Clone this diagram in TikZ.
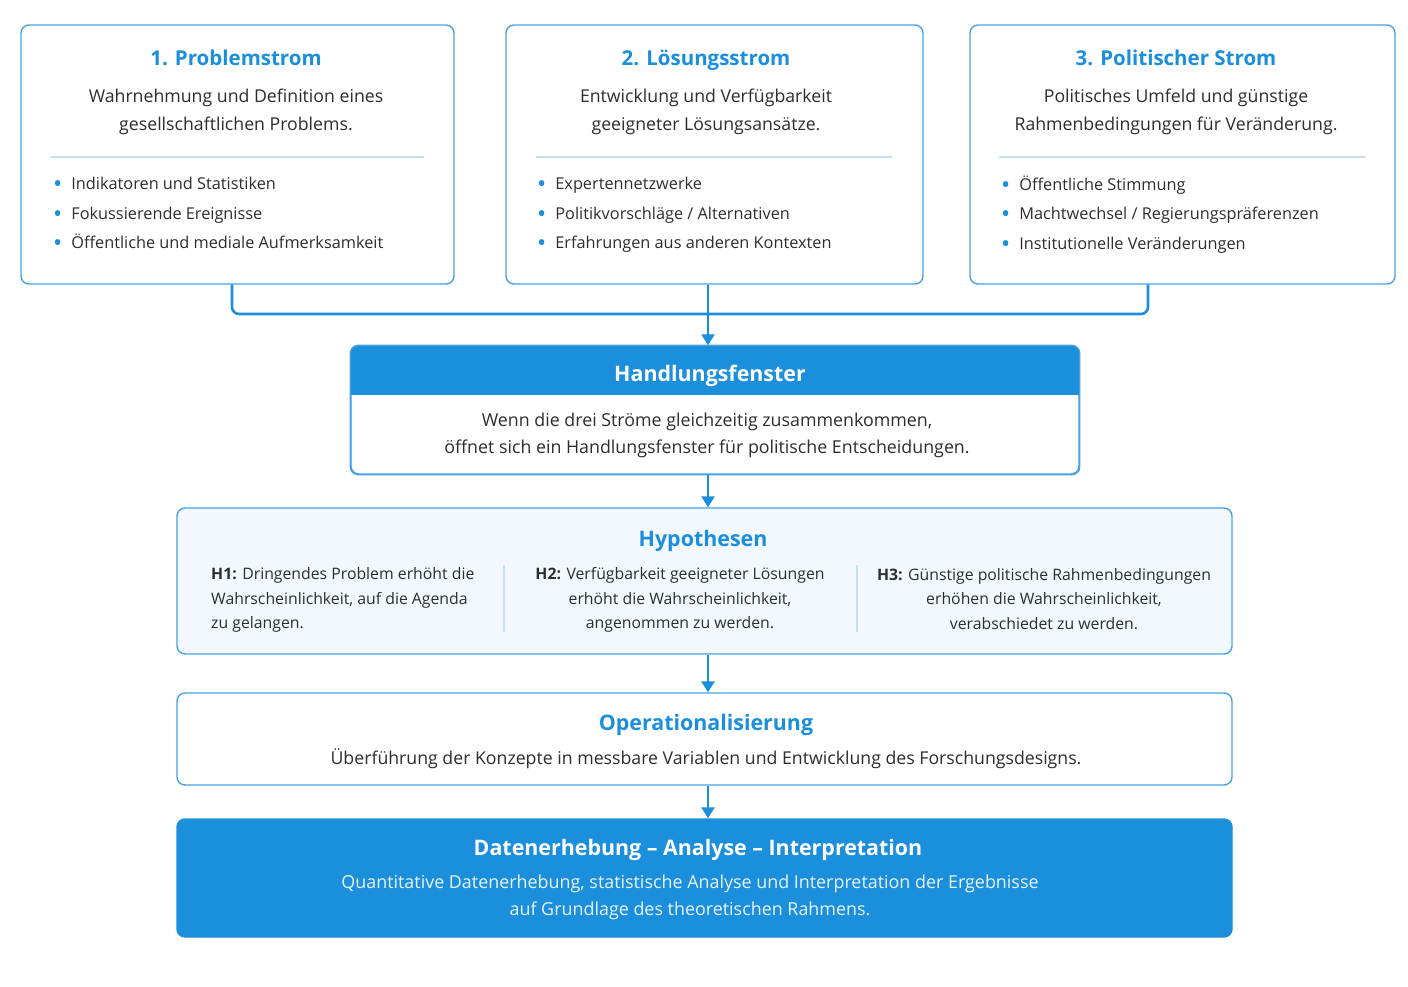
\documentclass[tikz,border=0pt]{standalone}
\usepackage{fontspec}
\setmainfont{Open Sans}
\usepackage{tikz}
\usetikzlibrary{positioning}
\usetikzlibrary{arrows.meta}

\definecolor{hblue}{RGB}{27,143,219}
\definecolor{lineblue}{RGB}{72,162,226}
\definecolor{sepblue}{RGB}{196,225,244}
\definecolor{paleblue}{RGB}{242,248,253}
\definecolor{txtgray}{RGB}{45,45,45}
\definecolor{softwhite}{RGB}{232,244,252}

\newcommand{\bul}{{\color{hblue}\raisebox{-3pt}{\scalebox{1.5}{\textbullet}}}\hspace{9pt}}

\begin{document}
\begin{tikzpicture}[x=1pt,y=-1pt,
	box/.style={draw=lineblue, line width=1.4pt, rounded corners=8pt, fill=white, inner sep=0pt},
	head/.style={text=hblue, font=\fontsize{21.4}{25}\selectfont\bfseries, inner sep=0pt, anchor=base},
	shead/.style={head, font=\fontsize{20.5}{24}\selectfont\bfseries},
	desc/.style={text=txtgray, align=center, font=\fontsize{17.7}{28}\selectfont, inner sep=0pt},
	items/.style={text=txtgray, align=left, anchor=west, font=\fontsize{16.3}{29.5}\selectfont, inner sep=0pt},
	hyptext/.style={text=txtgray, font=\fontsize{15.8}{24.5}\selectfont, inner sep=0pt},
	sep/.style={draw=sepblue, line width=1.2pt},
	link/.style={draw=hblue, line width=2.6pt},
	arr/.style={link, -{Triangle[length=11pt, width=13pt]}}]

	\useasboundingbox (0,0) rectangle (1408,987);

	% the three streams
	\node (p1) [box, minimum width=433pt, minimum height=259pt] at (237.5,154.5) {};
	\node (p2) [box, minimum width=417pt, minimum height=259pt] at (714.5,154.5) {};
	\node (p3) [box, minimum width=425pt, minimum height=259pt] at (1182.5,154.5) {};

	\node (t1) [shead] at (236,65.5) {1. Problemstrom};
	\node (t2) [shead] at (706,65.5) {2. Lösungsstrom};
	\node (t3) [shead] at (1176,65.5) {3. Politischer Strom};

	\node (d1) [desc] at (236,112) {Wahrnehmung und Definition eines\\gesellschaftlichen Problems.};
	\node (d2) [desc] at (706,112) {Entwicklung und Verfügbarkeit\\geeigneter Lösungsansätze.};
	\node (d3) [desc] at (1176,112) {Politisches Umfeld und günstige\\Rahmenbedingungen für Veränderung.};

	\draw [sep] (51,157) -- (424,157);
	\draw [sep] (536,157) -- (892,157);
	\draw [sep] (999,157) -- (1365,157);

	\node (b1) [items] at (53,214.5) {\bul Indikatoren und Statistiken\\\bul Fokussierende Ereignisse\\\bul Öffentliche und mediale Aufmerksamkeit};
	\node (b2) [items] at (537,215) {\bul Expertennetzwerke\\\bul Politikvorschläge / Alternativen\\\bul Erfahrungen aus anderen Kontexten};
	\node (b3) [items] at (1001,214.5) {\bul Öffentliche Stimmung\\\bul Machtwechsel / Regierungspräferenzen\\\bul Institutionelle Veränderungen};

	% window of opportunity
	\node (win) [box, minimum width=728pt, minimum height=128pt] at (715,410) {};
	\begin{scope}
		\clip [rounded corners=8pt] (win.south west) rectangle (win.north east);
		\fill [hblue] (win.north west) rectangle (win.east |- 0,395);
	\end{scope}
	\draw [draw=lineblue, line width=1.4pt, rounded corners=8pt] (win.south west) rectangle (win.north east);
	\node (wt) [head, text=white] at (710,381.7) {Handlungsfenster};
	\node (wd) [desc, font=\fontsize{17.8}{27}\selectfont] at (707,435.5) {Wenn die drei Ströme gleichzeitig zusammenkommen,\\öffnet sich ein Handlungsfenster für politische Entscheidungen.};

	\draw [link, rounded corners=7pt] (232,0 |- p1.south) -- (232,314) -- (1148,314) -- (1148,0 |- p3.south);
	\draw [arr] (708,0 |- p2.south) -- (708,0 |- win.north);

	% hypotheses
	\node (hyp) [box, fill=paleblue, minimum width=1055pt, minimum height=146pt] at (704.5,581) {};
	\node (ht) [head] at (703,546.7) {Hypothesen};
	\node (h1) [hyptext, align=left, anchor=west] at (211,600) {\textbf{H1:} Dringendes Problem erhöht die\\Wahrscheinlichkeit, auf die Agenda\\zu gelangen.};
	\node (h2) [hyptext, align=center] at (680,600) {\textbf{H2:} Verfügbarkeit geeigneter Lösungen\\erhöht die Wahrscheinlichkeit,\\angenommen zu werden.};
	\node (h3) [hyptext, align=center] at (1044,599) {\textbf{H3:} Günstige politische Rahmenbedingungen\\erhöhen die Wahrscheinlichkeit,\\verabschiedet zu werden.};
	\draw [sep] (504,565) -- (504,632);
	\draw [sep] (857,565) -- (857,632);

	\draw [arr] (708,0 |- win.south) -- (708,0 |- hyp.north);

	% operationalisation
	\node (op) [box, minimum width=1055pt, minimum height=92pt] at (704.5,739) {};
	\node (ot) [head] at (706,730.7) {Operationalisierung};
	\node (od) [desc] at (706,759) {Überführung der Konzepte in messbare Variablen und Entwicklung des Forschungsdesigns.};

	\draw [arr] (708,0 |- hyp.south) -- (708,0 |- op.north);

	% data
	\node (dat) [box, draw=hblue, fill=hblue, minimum width=1055pt, minimum height=118pt] at (704.5,878) {};
	\node (dt) [head, text=white] at (698,855.7) {Datenerhebung – Analyse – Interpretation};
	\node (dd) [desc, text=softwhite, font=\fontsize{17.9}{27}\selectfont] at (690,897.5) {Quantitative Datenerhebung, statistische Analyse und Interpretation der Ergebnisse\\auf Grundlage des theoretischen Rahmens.};

	\draw [arr] (708,0 |- op.south) -- (708,0 |- dat.north);
\end{tikzpicture}
\end{document}
